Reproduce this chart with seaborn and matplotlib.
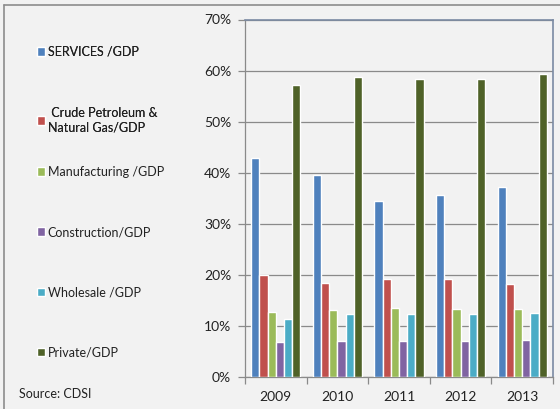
import pandas as pd
import seaborn as sns
import matplotlib.pyplot as plt
from matplotlib.lines import Line2D
from matplotlib.ticker import FixedLocator, FuncFormatter

years = ['2009', '2010', '2011', '2012', '2013']
sectors = ['SERVICES /GDP', ' Crude Petroleum &\nNatural Gas/GDP', 'Manufacturing /GDP',
           'Construction/GDP', 'Wholesale /GDP', 'Private/GDP']

services = [42.8, 39.5, 34.5, 35.6, 37.3]
crude = [19.9, 18.5, 19.1, 19.1, 18.3]
manufacturing = [12.8, 13.2, 13.6, 13.4, 13.4]
construction = [6.85, 7.05, 7.05, 7.05, 7.25]
wholesale = [11.4, 12.4, 12.4, 12.4, 12.6]
private = [57.1, 58.7, 58.3, 58.3, 59.3]

colors = ['#4f81bd', '#c0504d', '#9bbb59', '#8064a2', '#4bacc6', '#4f6228']
bg = '#f2f2f2'

series = [services, crude, manufacturing, construction, wholesale, private]
rows = []
for name, vals in zip(sectors, series):
    for y, v in zip(years, vals):
        rows.append({'Year': y, 'Sector': name, 'Share': v})
data = pd.DataFrame(rows)

sns.set_theme(style='white', rc={'axes.facecolor': bg, 'figure.facecolor': bg})
plt.rcParams['font.family'] = ['Lato', 'DejaVu Sans']

fig = plt.figure(figsize=(5.6, 4.09), dpi=100)
ax = fig.add_axes([245 / 560, 32 / 409, 308 / 560, 357.5 / 409])

sns.barplot(data=data, x='Year', y='Share', hue='Sector', palette=colors,
            width=0.8, saturation=1, ax=ax, legend=True, zorder=3)

ax.set_ylim(0, 70)
ax.set_xlim(-0.5, 4.5)
ax.set_yticks(range(0, 71, 10))
ax.yaxis.set_major_formatter(FuncFormatter(lambda v, p: f'{v:.0f}%'))
ax.yaxis.grid(True, color='#8a8a8a', linewidth=0.9, zorder=0)
ax.set_axisbelow(True)

ax.xaxis.set_major_locator(FixedLocator([-0.5, 0.5, 1.5, 2.5, 3.5, 4.5]))
ax.xaxis.set_minor_locator(FixedLocator(range(5)))
ax.set_xticklabels([], minor=False)
ax.set_xticklabels(years, minor=True)
ax.tick_params(axis='x', which='major', length=5, width=0.9, color='#8a8a8a', direction='out', bottom=True)
ax.tick_params(axis='x', which='minor', length=0, pad=10, labelsize=10, labelcolor='#222222')
ax.tick_params(axis='y', length=5, width=0.9, color='#8a8a8a', direction='out', left=True,
               labelsize=10, labelcolor='#222222', pad=5)
ax.set_xlabel('')
ax.set_ylabel('')

for side in ['left', 'bottom']:
    ax.spines[side].set_color('#8a8a8a')
    ax.spines[side].set_linewidth(0.9)
for side in ['top', 'right']:
    ax.spines[side].set_color('#7b8aa3')
    ax.spines[side].set_linewidth(1.2)

handles, labels = ax.get_legend_handles_labels()
ax.get_legend().remove()

# Excel gives every entry the same slot, so the two-line entry gets its own legend
leg_kw = dict(loc='upper left', frameon=False, fontsize=9, handlelength=0.65, handleheight=0.7,
              handletextpad=0.2, labelcolor='#222222', borderpad=0, borderaxespad=0)
top_leg = fig.legend(handles[:2], labels[:2], bbox_to_anchor=(37 / 560, 1 - 46 / 409),
                     labelspacing=3.92, **leg_kw)
fig.legend(handles[2:], labels[2:], bbox_to_anchor=(37 / 560, 1 - 166 / 409),
           labelspacing=3.85, **leg_kw)
fig.add_artist(top_leg)

fig.text(19 / 560, 1 - 394 / 409, 'Source: CDSI', fontsize=9, color='#222222', va='center')

# outer frame of the chart
fig.add_artist(Line2D([4 / 560, 1], [1 - 5 / 409, 1 - 5 / 409], transform=fig.transFigure,
                      color='#8c8c8c', linewidth=1.2))
fig.add_artist(Line2D([4 / 560, 4 / 560], [0, 1 - 5 / 409], transform=fig.transFigure,
                      color='#8c8c8c', linewidth=1.2))

fig.savefig('out.png', dpi=100, facecolor=bg)
